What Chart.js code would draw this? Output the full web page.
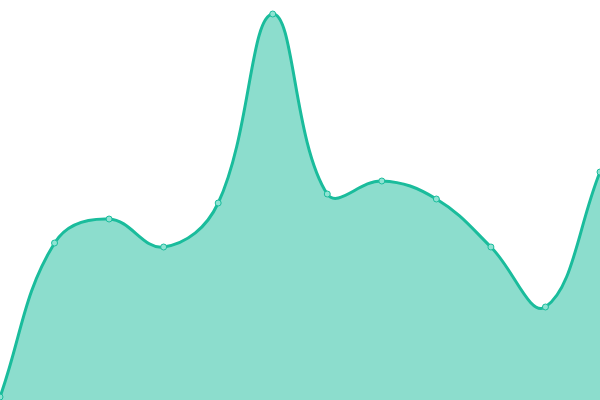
<!DOCTYPE html>
<html>
<head>
<meta charset="utf-8">
<script src="https://cdn.jsdelivr.net/npm/chart.js@4"></script>
<style>
  html, body { margin: 0; padding: 0; background: #fff; }
  #wrap { width: 600px; height: 400px; }
</style>
</head>
<body>
<div id="wrap"><canvas id="myChart"></canvas></div>
<script>
// values
const labels = ['1', '2', '3', '4', '5', '6', '7', '8', '9', '10', '11', '12'];
const values = [3, 157, 181, 153, 197, 386, 206, 219, 201, 153, 93, 228];

const ctx = document.getElementById('myChart');

new Chart(ctx, {
  type: 'line',
  data: {
    labels: labels,
    datasets: [{
      data: values,
      borderColor: '#1abc9c',
      borderWidth: 3,
      backgroundColor: 'rgba(26,188,156,0.5)',
      fill: true,
      tension: 0.4,
      pointRadius: 3,
      pointBorderWidth: 1,
      pointBackgroundColor: '#8fe3d3',
      pointBorderColor: '#1abc9c',
    }],
  },
  options: {
    responsive: true,
    maintainAspectRatio: false,
    animation: false,
    plugins: {
      legend: false,
      tooltip: false,
    },
    layout: { padding: 0, autoPadding: false },
    scales: {
      x: { display: false, offset: false },
      y: { display: false, min: 0, max: 400 },
    },
  }
});
</script>
</body>
</html>
